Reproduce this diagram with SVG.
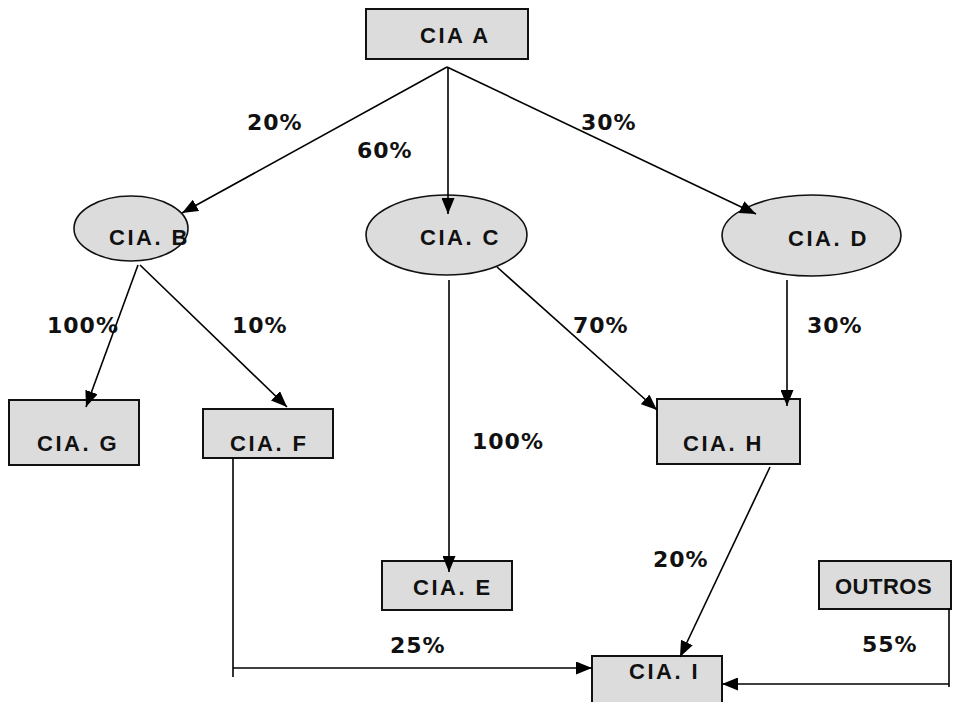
<svg xmlns="http://www.w3.org/2000/svg" width="953" height="702" viewBox="0 0 953 702">
<style>
.box{fill:#dcdcdc;stroke:#111;stroke-width:2}
.ell{fill:#dcdcdc;stroke:#111;stroke-width:1.6}
.lbl{font-family:"Liberation Sans",Arial,sans-serif;font-weight:bold;font-size:22px;letter-spacing:2.5px;fill:#111}
.pct{font-family:"DejaVu Sans","Liberation Sans",sans-serif;font-weight:bold;font-size:22px;letter-spacing:1px;fill:#111}
.ln{fill:none;stroke:#000;stroke-width:1.6}
</style>
<defs>
<marker id="ah" markerUnits="userSpaceOnUse" markerWidth="16" markerHeight="13" viewBox="0 0 16 13" refX="16" refY="6.5" orient="auto">
<path d="M0,0 L16,6.5 L0,13 z" fill="#000"/>
</marker>
</defs>
<g id="ciaA"><rect class="box" x="366" y="9" width="162" height="50"/><text class="lbl" x="420" y="43">CIA A</text></g>
<g id="ciaB"><ellipse class="ell" cx="131" cy="228.5" rx="57" ry="32.5"/><text class="lbl" x="109" y="245">CIA. B</text></g>
<g id="ciaC"><ellipse class="ell" cx="446.5" cy="235" rx="80.5" ry="40"/><text class="lbl" x="420" y="245">CIA. C</text></g>
<g id="ciaD"><ellipse class="ell" cx="811.5" cy="235.5" rx="89.5" ry="40.5"/><text class="lbl" x="788" y="246">CIA. D</text></g>
<g id="ciaG"><rect class="box" x="9" y="400" width="130" height="65"/><text class="lbl" x="37" y="451">CIA. G</text></g>
<g id="ciaF"><rect class="box" x="203" y="409" width="130" height="49"/><text class="lbl" x="230" y="451">CIA. F</text></g>
<g id="ciaH"><rect class="box" x="657" y="399" width="143" height="65"/><text class="lbl" x="683" y="451">CIA. H</text></g>
<g id="ciaE"><rect class="box" x="382" y="561" width="130" height="49"/><text class="lbl" x="413" y="595">CIA. E</text></g>
<g id="outros"><rect class="box" x="819" y="561" width="132" height="48"/><text class="lbl" x="835" y="594" style="letter-spacing:0.5px">OUTROS</text></g>
<g id="ciaI"><rect class="box" x="592" y="656" width="130" height="52"/><text class="lbl" x="629" y="679">CIA. I</text></g>
<g id="connectors">
<path class="ln" d="M447,67 L182,213" marker-end="url(#ah)"/>
<path class="ln" d="M448,67 L448,214" marker-end="url(#ah)"/>
<path class="ln" d="M447,67 L756,214" marker-end="url(#ah)"/>
<path class="ln" d="M138,265 L86,407" marker-end="url(#ah)"/>
<path class="ln" d="M140,265 L287,407" marker-end="url(#ah)"/>
<path class="ln" d="M449,280 L449,572" marker-end="url(#ah)"/>
<path class="ln" d="M497,267 L657,410" marker-end="url(#ah)"/>
<path class="ln" d="M787,280 L787,406" marker-end="url(#ah)"/>
<path class="ln" d="M233,458 L233,677"/>
<path class="ln" d="M233,668 L592,668" marker-end="url(#ah)"/>
<path class="ln" d="M770,467 L680,657" marker-end="url(#ah)"/>
<path class="ln" d="M949,609 L949,687"/>
<path class="ln" d="M949,684 L722,684" marker-end="url(#ah)"/>
</g>
<g id="labels">
<text class="pct" x="247" y="130">20%</text>
<text class="pct" x="357" y="158">60%</text>
<text class="pct" x="581" y="130">30%</text>
<text class="pct" x="47" y="333">100%</text>
<text class="pct" x="232" y="333">10%</text>
<text class="pct" x="573" y="333">70%</text>
<text class="pct" x="807" y="333">30%</text>
<text class="pct" x="472" y="449">100%</text>
<text class="pct" x="653" y="567">20%</text>
<text class="pct" x="390" y="653">25%</text>
<text class="pct" x="862" y="652">55%</text>
</g>
</svg>
